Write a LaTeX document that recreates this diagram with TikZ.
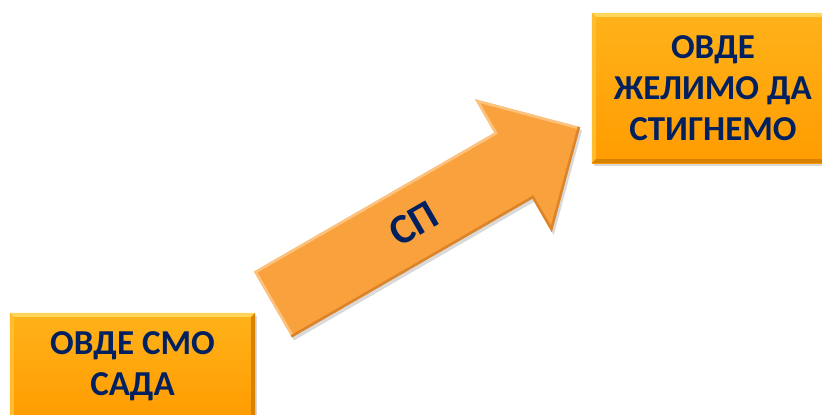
\documentclass[tikz,border=0pt]{standalone}
\usepackage{fontspec}
\setmainfont{Carlito}
\usepackage{xcolor}
\usetikzlibrary{shadows}

\definecolor{boxorange}{HTML}{FF9C00}
\definecolor{boxlight}{HTML}{FFB21A}
\definecolor{bevlight}{HTML}{FFD65A}
\definecolor{bevdark}{HTML}{D98200}
\definecolor{arroworange}{HTML}{F9A23D}
\definecolor{arrowlight}{HTML}{FCC27E}
\definecolor{arrowdark}{HTML}{DB842C}
\definecolor{navy}{HTML}{002060}

\begin{document}
\begin{tikzpicture}[
x=1pt, y=-1pt,
placebox/.style={rectangle, inner sep=0pt, top color=boxlight, bottom color=boxorange, drop shadow={opacity=0.3, shadow xshift=2pt, shadow yshift=-3pt}, font=\bfseries\fontsize{35}{41}\selectfont, text=navy, align=center},
arrowbody/.style={fill=arroworange, drop shadow={opacity=0.3, shadow xshift=2pt, shadow yshift=-3pt}},
arrowtext/.style={font=\bfseries\fontsize{42}{46}\selectfont, text=navy, rotate=30, inner sep=0pt}
]
\useasboundingbox (0,0) rectangle (822,415);
\clip (0,0) rectangle (822,415);

% boxes
\node[placebox, minimum width=245pt, minimum height=106pt] (now) at (132.5,366) {ОВДЕ СМО\\САДА};
\node[placebox, minimum width=242pt, minimum height=150pt] (goal) at (713,88) {ОВДЕ\\ЖЕЛИМО ДА\\СТИГНЕМО};

\foreach \b in {now,goal} {
  \fill[bevlight] (\b.north west) -- (\b.north east) -- ([shift={(-4pt,-4pt)}]\b.north east) -- ([shift={(4pt,-4pt)}]\b.north west) -- cycle;
  \fill[boxlight!70!bevlight] (\b.north west) -- ([shift={(4pt,-4pt)}]\b.north west) -- ([shift={(4pt,4pt)}]\b.south west) -- (\b.south west) -- cycle;
  \fill[bevdark] (\b.north east) -- ([shift={(-4pt,-4pt)}]\b.north east) -- ([shift={(-4pt,4pt)}]\b.south east) -- (\b.south east) -- cycle;
  \fill[bevdark] (\b.south west) -- (\b.south east) -- ([shift={(-4pt,4pt)}]\b.south east) -- ([shift={(4pt,4pt)}]\b.south west) -- cycle;
}

% arrow
\begin{scope}[shift={(273,304.5)}, rotate=30]
\coordinate (t1) at (0,-38);
\coordinate (t2) at (277.6,-38);
\coordinate (t3) at (277.6,-76.75);
\coordinate (tip) at (354.6,0);
\coordinate (b3) at (277.6,76.75);
\coordinate (b2) at (277.6,38);
\coordinate (b1) at (0,38);
\path[arrowbody] (t1) -- (t2) -- (t3) -- (tip) -- (b3) -- (b2) -- (b1) -- cycle;
\begin{scope}
\clip (t1) -- (t2) -- (t3) -- (tip) -- (b3) -- (b2) -- (b1) -- cycle;
\draw[arrowlight, line width=5pt] (b1) -- (t1) -- (t2) -- (t3) -- (tip);
\draw[arrowdark, line width=5pt] (tip) -- (b3) -- (b2) -- (b1);
\end{scope}
\node[arrowtext] (sp) at (162,0) {СП};
\end{scope}

\end{tikzpicture}
\end{document}
